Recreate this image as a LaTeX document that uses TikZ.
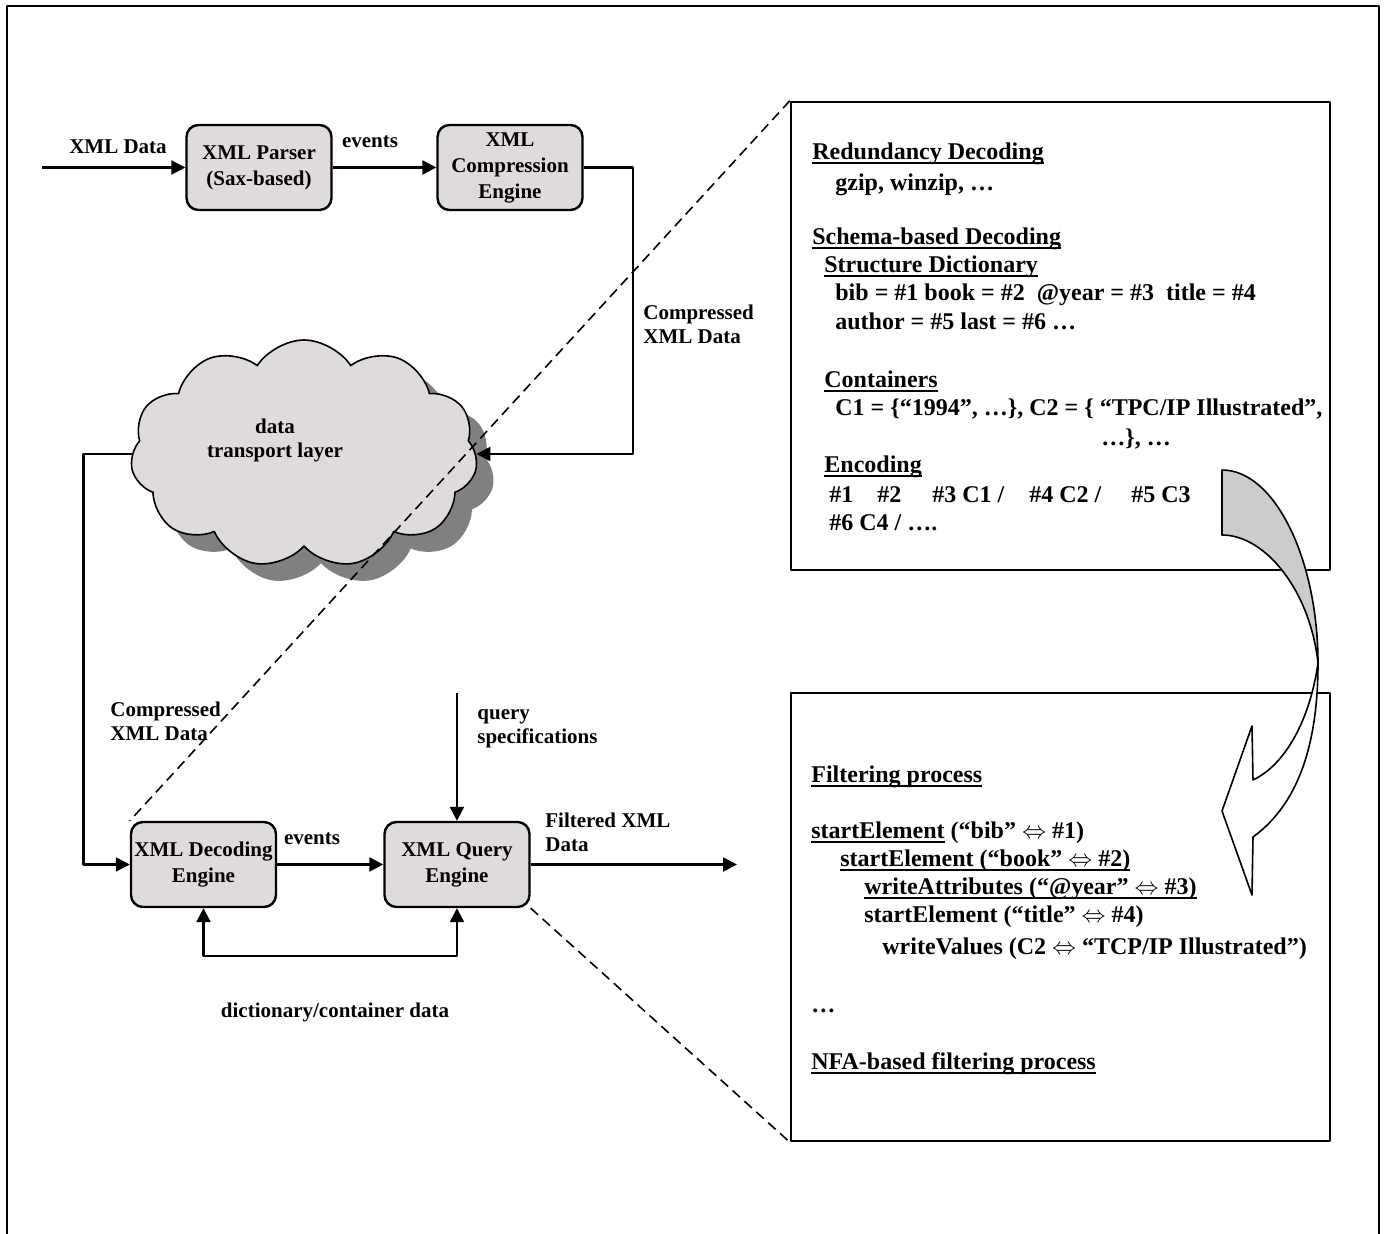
\documentclass[tikz,border=0pt]{standalone}
\usepackage{fontspec}
\setmainfont{Liberation Serif}
\usetikzlibrary{arrows.meta,shapes.symbols}

% underline close to the baseline
\newcommand{\uln}[1]{\leavevmode\setbox0\hbox{#1}\rlap{\rule[-1.9pt]{\wd0}{0.9pt}}\box0\relax}

\definecolor{boxgray}{RGB}{223,219,219}
\definecolor{shadowgray}{RGB}{128,128,128}
\definecolor{bendgray}{RGB}{204,204,204}

\begin{document}
\begin{tikzpicture}[x=0.5pt, y=-0.5pt, line join=round,
  block/.style={draw, line width=1.2pt, rounded corners=6pt, fill=boxgray,
    minimum width=72.5pt, minimum height=42.5pt, inner sep=0pt, align=center,
    font=\fontsize{10.5}{13}\selectfont\bfseries},
  lbl/.style={font=\fontsize{10.5}{12}\selectfont\bfseries, align=left, inner sep=0pt},
  flow/.style={line width=1.2pt, -{Triangle[length=7pt,width=7pt]}},
  panel/.style={draw, line width=1.2pt, minimum width=269.5pt, inner sep=0pt},
  txt/.style={font=\fontsize{12}{14}\selectfont\bfseries, anchor=base west, inner sep=0pt},
  zoomline/.style={line width=0.8pt, dash pattern=on 5pt off 3pt},
  puffy/.style={cloud, cloud puffs=11, cloud puff arc=115, cloud ignores aspect,
    minimum width=173.5pt, minimum height=114pt}]

% Page and outer frame
\useasboundingbox (0,0) rectangle (1389,1234);
\draw[line width=1.3pt] (7,1234) -- (7,6) -- (1379,6) -- (1379,1234);

% Compression side
\node[block] (parser) at (259,167.5) {XML Parser\\(Sax-based)};
\node[block] (compress) at (510,167.5) {XML\\Compression\\Engine};
\coordinate (xmlin) at (42,167.5);

\draw[flow] (xmlin) -- (parser);
\draw[flow] (parser) -- (compress);

\node[lbl] (xmllbl) at (118,147) {XML Data};
\node[lbl] (evtop) at (370,142) {events};
\node[lbl, anchor=west] (cmptop) at (643,324) {Compressed\\XML Data};

% Transport cloud with its shadow
\node[puffy, fill=shadowgray] (cloudshadow) at (321,471) {};
\node[puffy, draw, line width=0.8pt, fill=boxgray] (cloud) at (304,454) {};
\node[lbl, align=center] (cloudtxt) at (275,440) {data\\transport layer};

% Decoding side
\node[block] (decode) at (203.5,864.5) {XML Decoding\\Engine};
\node[block] (query) at (457,864.5) {XML Query\\Engine};
\coordinate (qspec) at (457,693);
\coordinate (filtout) at (737,864.5);

\draw[flow] (compress.east) -- ++(49,0) |- (cloud.east);
\draw[flow] (cloud.west) -- ++(-48,0) |- (decode.west);
\draw[flow] (decode) -- (query);
\draw[flow] (qspec) -- (query);
\draw[flow] (query) -- (filtout);
\draw[line width=1.2pt, {Triangle[length=7pt,width=7pt]}-{Triangle[length=7pt,width=7pt]}]
  (decode.south) -- ++(0,48) -| (query.south);

\node[lbl, anchor=west] (cmpbot) at (110,721) {Compressed\\XML Data};
\node[lbl, anchor=west] (speclbl) at (477,729) {query\\specifications};
\node[lbl] (evbot) at (312,839) {events};
\node[lbl, anchor=west] (filtlbl) at (545,832) {Filtered XML\\Data};
\node[lbl] (dictlbl) at (335,1012) {dictionary/container data};

% Detail panels
\node[panel, minimum height=234pt] (schema) at (1060.5,336) {};
\node[panel, minimum height=224pt] (filter) at (1060.5,917) {};

\draw[zoomline] (schema.north west) -- (decode.north west);
\draw[zoomline] (query.south east) -- (filter.south west);

% Upper panel text
\node[txt] (t1) at (812,160) {\uln{Redundancy Decoding}};
\node[txt] (t2) at (835,191) {gzip, winzip, …};
\node[txt] (t3) at (812,245) {\uln{Schema-based Decoding}};
\node[txt] (t4) at (824,273) {\uln{Structure Dictionary}};
\node[txt] (t5) at (835,301) {bib = \#1 book = \#2~ @year = \#3~ title = \#4};
\node[txt] (t6) at (835,330) {author = \#5 last = \#6 …};
\node[txt] (t7) at (824,388) {\uln{Containers}};
\node[txt] (t8) at (835,416) {C1 = \{“1994”, …\}, C2 = \{ “TPC/IP Illustrated”,};
\node[txt] (t9) at (1101,446) {…\}, …};
\node[txt] (t10) at (824,473) {\uln{Encoding}};
\node[txt] (t11) at (829,503) {\#1\hspace{12pt}\#2\hspace{15.5pt}\#3 C1 /\hspace{12.5pt}\#4 C2 /\hspace{15pt}\#5 C3};
\node[txt] (t12) at (829,531) {\#6 C4 / ….};

% Lower panel text
\node[txt] (f1) at (811,783) {\uln{Filtering process}};
\node[txt] (f2) at (811,839) {\uln{startElement} (“bib” $\Leftrightarrow$ \#1)};
\node[txt] (f3) at (840,867) {\uln{startElement (“book” $\Leftrightarrow$ \#2)}};
\node[txt] (f4) at (864,895) {\uln{writeAttributes (“@year” $\Leftrightarrow$ \#3)}};
\node[txt] (f5) at (864,923) {startElement (“title” $\Leftrightarrow$ \#4)};
\node[txt] (f6) at (882,955) {writeValues (C2 $\Leftrightarrow$ “TCP/IP Illustrated”)};
\node[txt] (f7) at (811,1013) {…};
\node[txt] (f8) at (811,1070) {\uln{NFA-based filtering process}};

% Twisted arrow between the panels
\filldraw[fill=bendgray, line width=0.8pt] (1222,470) -- (1222,535)
  .. controls (1265,535) and (1310,590) .. (1318,663)
  .. controls (1318,560) and (1275,470) .. (1222,470) -- cycle;
\filldraw[fill=white, line width=0.8pt] (1318,663)
  .. controls (1318,760) and (1290,810) .. (1253,837)
  -- (1252,895) -- (1222,811) -- (1252,726) -- (1253,780)
  .. controls (1285,765) and (1310,720) .. (1318,663) -- cycle;

\end{tikzpicture}
\end{document}
